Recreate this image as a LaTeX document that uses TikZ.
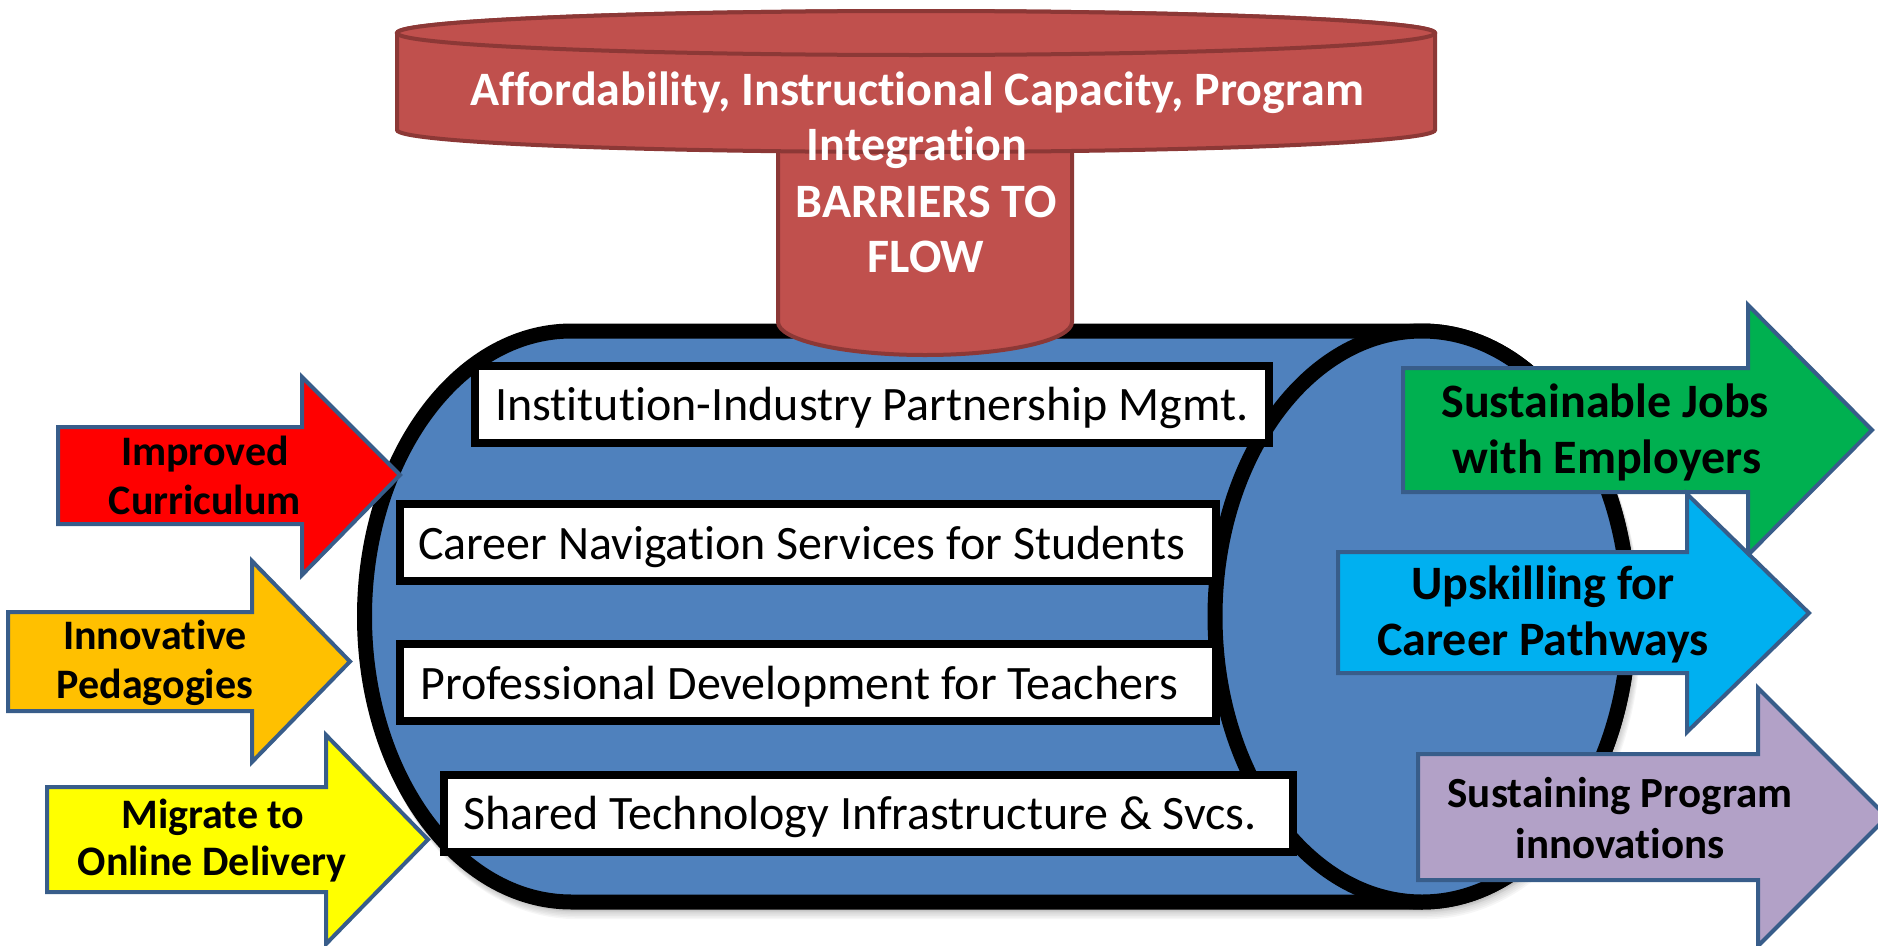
\documentclass[tikz,border=0pt]{standalone}
\usepackage{fontspec}
\setmainfont{Carlito}[Ligatures=NoCommon]
\definecolor{cylblue}{HTML}{4F81BD}
\definecolor{barred}{HTML}{C0504D}
\definecolor{barline}{HTML}{8C3836}
\definecolor{arrline}{HTML}{385D8A}
\definecolor{ared}{HTML}{FF0000}
\definecolor{aorange}{HTML}{FFC000}
\definecolor{ayellow}{HTML}{FFFF00}
\definecolor{agreen}{HTML}{00B050}
\definecolor{ablue}{HTML}{00B0F0}
\definecolor{apurple}{HTML}{B2A1C7}
\begin{document}
\begin{tikzpicture}[x=1pt,y=1pt,
 cylshape/.style={insert path={(571.5,-331) arc[start angle=90,end angle=270,x radius=207,y radius=285.5] -- (1422,-902) arc[start angle=-90,end angle=90,x radius=207,y radius=285.5] -- cycle}},
 cyl/.style={fill=cylblue, draw=black, line width=15pt, line join=round},
 barrier/.style={fill=barred, draw=barline, line width=4pt},
 box/.style={draw=black, fill=white, line width=8pt, inner sep=0pt},
 boxtxt/.style={anchor=base west, inner sep=0pt, font=\fontsize{48}{56}\selectfont},
 arr/.style={draw=arrline, line width=4pt, line join=miter},
 bartxt/.style={anchor=base, inner sep=0pt, text=white, font=\fontsize{48}{56}\selectfont\bfseries},
 ltxt/.style={anchor=base, inner sep=0pt, font=\fontsize{42}{48}\selectfont\bfseries},
 rtxt/.style={anchor=base, inner sep=0pt, font=\fontsize{48}{56}\selectfont\bfseries},
 ptxt/.style={anchor=base, inner sep=0pt, font=\fontsize{43}{51}\selectfont\bfseries}]
\useasboundingbox (0,0) rectangle (1878,-945);
% shadow of the pipe
\foreach \k in {1,...,6} {
  \path[shift={(\k*0.8,-\k*1.6)}, cylshape, fill=black, draw=black, line width=15pt, opacity=0.035];
}
% blue pipe
\path[cyl, cylshape];
\draw[cyl] (1422,-616.5) ellipse[x radius=207, y radius=285.5];
% red barrier: stem then disc
\path[barrier] (778,-120) -- (778,-322) arc[start angle=180,end angle=360,x radius=147,y radius=33] -- (1072,-120) -- cycle;
\path[barrier] (397,-33) -- (397,-130) arc[start angle=180,end angle=360,x radius=519,y radius=22] -- (1435,-33) arc[start angle=0,end angle=180,x radius=519,y radius=22] -- cycle;
\draw[barrier] (916,-33) ellipse[x radius=519, y radius=22];
\node[bartxt] (bar1) at (917,-105) {Affordability, Instructional Capacity, Program};
\node[bartxt] (bar2) at (917,-160) {Integration};
\node[bartxt] (bar3) at (926,-217) {BARRIERS TO};
\node[bartxt] (bar4) at (926,-272) {FLOW};
% boxes
\node[box, minimum width=794.5pt, minimum height=77pt] (b1) at (871.75,-404.5) {};
\node[box, minimum width=816pt, minimum height=77pt] (b2) at (808,-542.5) {};
\node[box, minimum width=816pt, minimum height=77pt] (b3) at (808,-682.5) {};
\node[box, minimum width=849pt, minimum height=77pt] (b4) at (868.5,-813.5) {};
\node[boxtxt] (t1) at (495,-420) {Institution-Industry Partnership Mgmt.};
\node[boxtxt] (t2) at (418,-559) {Career Navigation Services for Students};
\node[boxtxt] (t3) at (420,-699) {Professional Development for Teachers};
\node[boxtxt] (t4) at (463,-829) {Shared Technology Infrastructure \& Svcs.};
% left arrows
\path[arr, fill=ared] (58,-427) -- (302,-427) -- (302,-377) -- (400,-475) -- (302,-575) -- (302,-524) -- (58,-524) -- cycle;
\path[arr, fill=aorange] (8,-612) -- (252,-612) -- (252,-561) -- (350,-661.5) -- (252,-762) -- (252,-711) -- (8,-711) -- cycle;
\path[arr, fill=ayellow] (47,-787) -- (326,-787) -- (326,-735) -- (428,-839.5) -- (326,-944) -- (326,-892) -- (47,-892) -- cycle;
\node[ltxt] (l1a) at (205,-465) {Improved};
\node[ltxt] (l1b) at (205,-514) {Curriculum};
\node[ltxt] (l2a) at (155,-649) {Innovative};
\node[ltxt] (l2b) at (155,-698) {Pedagogies};
\node[ltxt] (l3a) at (213,-828) {Migrate to};
\node[ltxt] (l3b) at (212,-875) {Online Delivery};
% right arrows
\path[arr, fill=agreen] (1403,-368) -- (1748,-368) -- (1748,-305) -- (1872,-430) -- (1748,-555) -- (1748,-492) -- (1403,-492) -- cycle;
\path[arr, fill=ablue] (1338,-552) -- (1687,-552) -- (1687,-494) -- (1809,-613) -- (1687,-732) -- (1687,-673) -- (1338,-673) -- cycle;
\path[arr, fill=apurple] (1418,-754) -- (1758,-754) -- (1758,-688) -- (1887,-817) -- (1758,-946) -- (1758,-880) -- (1418,-880) -- cycle;
\node[rtxt] (r1a) at (1605,-417) {Sustainable Jobs};
\node[rtxt] (r1b) at (1607,-473) {with Employers};
\node[rtxt] (r2a) at (1543,-599) {Upskilling for};
\node[rtxt] (r2b) at (1543,-655) {Career Pathways};
\node[ptxt] (r3a) at (1620,-807) {Sustaining Program};
\node[ptxt] (r3b) at (1620,-858) {innovations};
\end{tikzpicture}
\end{document}
